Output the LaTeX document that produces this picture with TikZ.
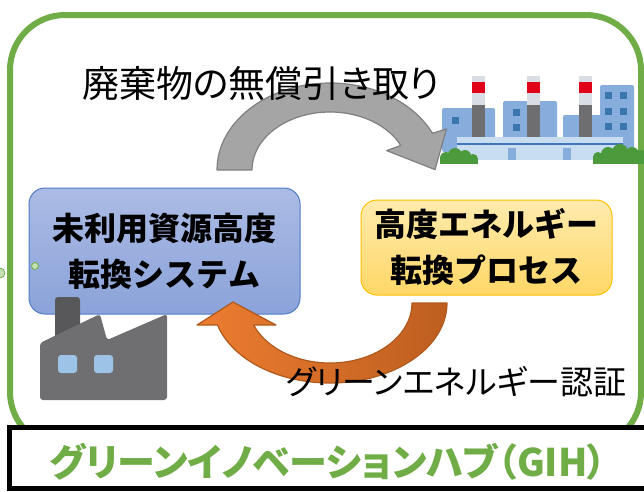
\documentclass[tikz,border=0pt]{standalone}
\usepackage{fontspec}
\usepackage{tikz}
\setmainfont{Noto Sans CJK JP}
\newfontfamily\jpfont[RawFeature=+palt]{Noto Sans CJK JP}
\definecolor{hubgreen}{HTML}{70AD47}
\definecolor{handle}{HTML}{C5E0B4}
\definecolor{sysTop}{HTML}{ABBBE4}
\definecolor{sysBot}{HTML}{8BA3DA}
\definecolor{sysLine}{HTML}{4F7BC4}
\definecolor{procTop}{HTML}{FFEBAE}
\definecolor{procBot}{HTML}{FFD766}
\definecolor{procLine}{HTML}{FFC000}
\definecolor{bldg}{HTML}{86ADDB}
\definecolor{win}{HTML}{3A75B0}
\definecolor{deck}{HTML}{C9DDF0}
\definecolor{deckline}{HTML}{3F77B8}
\definecolor{stacklight}{HTML}{D8DEE4}
\definecolor{stackred}{HTML}{E00018}
\definecolor{stackgray}{HTML}{6E6E70}
\definecolor{bush}{HTML}{4B9A3C}
\definecolor{factory}{HTML}{6F6F71}
\definecolor{factorystack}{HTML}{58585A}
\definecolor{factorywin}{HTML}{9DC3E6}
\definecolor{takeFill}{HTML}{A5A5A5}
\definecolor{takeLine}{HTML}{808080}
\definecolor{certLight}{HTML}{ED7D31}
\definecolor{certDark}{HTML}{BD5E1F}
\definecolor{certLine}{HTML}{B0591C}

\begin{document}
\begin{tikzpicture}[x=1pt,y=-1pt,
  box/.style={rounded corners=16pt, align=center, inner sep=0pt, line width=1pt,
    font=\bfseries\fontsize{32}{46}\selectfont},
  caption/.style={inner sep=0pt, font=\jpfont\fontsize{37}{40}\selectfont},
  hubtitle/.style={inner sep=0pt, text=hubgreen, font=\jpfont\bfseries\fontsize{38}{42}\selectfont}]
  \useasboundingbox (0,0) rectangle (644,491);

  \draw[hubgreen, line width=6pt, rounded corners=55pt] (10,15) rectangle (641,447);
  \draw[line width=5pt, fill=white] (9,427) rectangle (655,488);
  \node[hubtitle] (hub) at (328,462) {グリーンイノベーションハブ（GIH）};

  \node[box, draw=sysLine, top color=sysTop, bottom color=sysBot,
    minimum width=271pt, minimum height=126pt] (sys) at (164.5,251) {未利用資源高度\\転換システム};
  \node[box, draw=procLine, top color=procTop, bottom color=procBot,
    minimum width=251pt, minimum height=95pt] (proc) at (486.5,247.5) {高度エネルギー\\転換プロセス};

  \draw[hubgreen, fill=handle, line width=0.8pt] (0,273) circle[radius=5];
  \draw[hubgreen, fill=handle, line width=0.8pt] (35,266) circle[radius=3.5];

  % power plant
  \fill[bldg, rounded corners=2pt] (442,108) rectangle (495,152);
  \fill[bldg, rounded corners=2pt] (503,101) rectangle (557,152);
  \fill[bldg, rounded corners=2pt] (563,115) rectangle (602,152);
  \fill[bldg, rounded corners=2pt] (600,85) rectangle (634,152);
  \foreach \x/\y in {452/117, 513/109, 513/124, 605/92, 620/92, 605/108, 620/108, 605/123, 620/123}
    \fill[win] (\x,\y) rectangle +(7,7);
  \foreach \x in {472,527,579} {
    \fill[stackgray] (\x,76) rectangle +(13,64);
    \fill[stacklight] (\x,76) rectangle +(13,6);
    \fill[stackred] (\x,82) rectangle +(13,11);
    \fill[stacklight] (\x,93) rectangle +(13,12);
  }
  \fill[deck] (457,137) rectangle (623,160);
  \draw[deckline, line width=2pt] (457,144) -- (623,144);
  \foreach \x in {508,563,616}
    \fill[bldg] (\x,148) rectangle +(8,12);
  \fill[bush] (440,158) rectangle (478,164);
  \foreach \x/\y/\r in {446/158/6, 455/155/7, 465/156/6, 473/159/5}
    \fill[bush] (\x,\y) circle[radius=\r];
  \fill[bush] (593,157) rectangle (644,164);
  \foreach \x/\y/\r in {598/157/5, 608/154/7, 620/152/8, 632/154/7, 641/156/6}
    \fill[bush] (\x,\y) circle[radius=\r];

  % arrow over the top
  \filldraw[fill=takeFill, draw=takeLine, line width=1.2pt, line join=round]
    (217,170) arc[start angle=180, end angle=335, x radius=113, y radius=87]
    -- (446.5,129) -- (435,169.6) -- (386.6,150.6) -- (400.7,145.5)
    arc[start angle=335, end angle=180, x radius=78, y radius=58] -- cycle;

  % factory
  \fill[factorystack, rounded corners=3pt] (55,297) rectangle (80,345);
  \fill[factory, rounded corners=3pt]
    (40,400) -- (40,343) -- (100,314) -- (107,340) -- (167,314) -- (167,400) -- cycle;
  \foreach \x in {58,94}
    \fill[factorywin, rounded corners=3pt] (\x,355) rectangle +(19,18);

  % arrow underneath
  \draw[left color=certLight, right color=certDark, draw=certLine, line width=1.2pt, line join=round]
    (447,303) arc[start angle=0, end angle=164, x radius=117, y radius=80]
    -- (197,325) -- (233,302) -- (276,325) -- (253.7,325)
    arc[start angle=158.5, end angle=0, x radius=82, y radius=60] -- cycle;

  \node[caption] (take) at (261,84) {廃棄物の無償引き取り};
  \node[caption, font=\jpfont\fontsize{33}{36}\selectfont] (cert) at (456,382) {グリーンエネルギー認証};
\end{tikzpicture}
\end{document}
